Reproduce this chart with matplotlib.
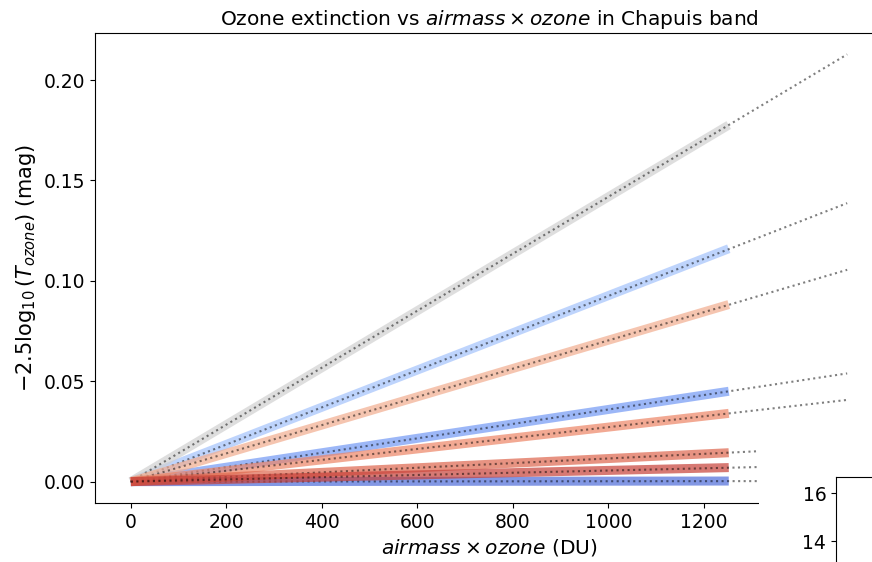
import matplotlib
matplotlib.use("Agg")
import matplotlib.pyplot as plt
from matplotlib.patches import Rectangle

W, H = 872, 562
# data: airmass x ozone ranges (DU)
x_data = [0, 1252]
x_fit = [0, 1500]
# extinction (mag) at end of data range and end of fit range, per band wavelength
series_names = ["b1", "b2", "b3", "b4", "b5", "b6", "b7", "b8"]
ext_data_end = [0.0003, 0.0450, 0.1160, 0.1776, 0.0882, 0.0340, 0.0144, 0.0070]
ext_fit_end = [0.0003, 0.0539, 0.1387, 0.2128, 0.1055, 0.0407, 0.0173, 0.0083]
colors = [(0.30, 0.42, 0.85), (0.45, 0.60, 0.96), (0.64, 0.76, 0.99),
          (0.82, 0.82, 0.82), (0.95, 0.68, 0.56), (0.93, 0.52, 0.40),
          (0.87, 0.40, 0.30), (0.78, 0.25, 0.22)]
ax2_ticks = [14, 16]

fig = plt.figure(figsize=(W / 100, H / 100), dpi=100)
left, right = 95, 883
top, bottom = 33, 503
ax = fig.add_axes([left / W, 1 - bottom / H, (right - left) / W, (bottom - top) / H])

for yd, yf, c in zip(ext_data_end, ext_fit_end, colors):
    ax.plot(x_data, [0, yd], color=c, lw=6.5, alpha=0.7, solid_capstyle='butt')
    ax.plot(x_fit, [0, yf], color='k', ls=':', lw=1.5, alpha=0.5)

ax.set_xticks([0, 200, 400, 600, 800, 1000, 1200, 1400])
ax.set_yticks([0.0, 0.05, 0.10, 0.15, 0.20])
ax.set_yticklabels(["0.00", "0.05", "0.10", "0.15", "0.20"])
ax.tick_params(labelsize=13.5)
ax.set_xlabel(r"$airmass \times ozone$ (DU)", fontsize=14.5)
ax.set_ylabel(r"$-2.5\log_{10}(T_{ozone})$ (mag)", fontsize=15)
ax.set_title(r"Ozone extinction vs $airmass \times ozone$ in Chapuis band", fontsize=14.5)

# white cover over lower right region (overlapping subplot area)
cover = Rectangle((759 / W, 0), 1, 1 - 430 / H, transform=fig.transFigure,
                  facecolor='white', edgecolor='none', zorder=1)
fig.add_artist(cover)

# partially visible second axes
ax2_left, ax2_top = 836, 477
ax2 = fig.add_axes([ax2_left / W, 1 - (ax2_top + 200) / H, 300 / W, 200 / H], zorder=2)
ax2.set_ylim(16.667 - 200 / 24, 16.667)
ax2.set_yticks(ax2_ticks)
ax2.set_xticks([])
ax2.tick_params(labelsize=13.5)

fig.savefig("out.png", dpi=100)
